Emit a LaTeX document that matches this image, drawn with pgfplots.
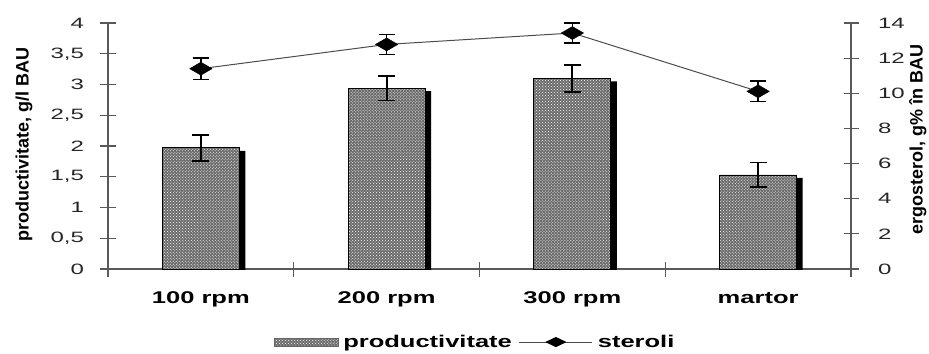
\documentclass[border=0pt]{standalone}
\usepackage{fontspec}
\setmainfont{Liberation Sans}
\newfontfamily\widefont{Liberation Sans}[FakeStretch=1.5]
\newfontfamily\tickfont{Liberation Sans}[FakeStretch=1.6]
\usepackage{pgfplots}
\pgfplotsset{compat=1.18}
\usetikzlibrary{patterns}
\begin{document}
\begin{tikzpicture}
\path[use as bounding box] (-108bp,-85bp) rectangle (821bp,269bp);
\begin{axis}[
  scale only axis, width=743bp, height=246bp,
  xmin=-0.5, xmax=3.5, ymin=0, ymax=4,
  axis x line*=bottom, axis y line*=left,
  axis line style={black!65, line width=1.2bp, -},
  ytick={0,0.5,1,1.5,2,2.5,3,3.5,4},
  tick align=center, major tick length=15bp,
  tick style={black!65, line width=1.2bp},
  /pgf/number format/assume math mode=true,
  /pgf/number format/use comma,
  yticklabel style={font=\tickfont\fontsize{15bp}{18bp}\selectfont, text=black!85, xshift=-13bp},
  xtick={-0.5,0.5,1.5,2.5,3.5}, xticklabels={},
  extra x ticks={0,1,2,3},
  extra x tick labels={100 rpm,200 rpm,300 rpm,martor},
  extra x tick style={major tick length=0pt, xticklabel style={font=\widefont\bfseries\fontsize{17bp}{20bp}\selectfont, anchor=base, yshift=-34bp}},
  ylabel={productivitate, g/l BAU},
  every axis y label/.style={at={(axis description cs:-0.113,0.508)}, rotate=90, anchor=center, font=\bfseries\fontsize{18bp}{20bp}\selectfont},
]
\addplot[ybar, bar width=77bp, draw=black, line width=0.8bp, fill=black!58,
  postaction={pattern=crosshatch dots, pattern color=white},
  preaction={fill=black, draw=none, transform canvas={shift={(6bp,-3bp)}}},
  error bars/.cd, y dir=both, y explicit,
  error bar style={line width=2bp, black},
  error mark options={rotate=90, line width=1.6bp, mark size=8.5bp, black}]
  coordinates {(0,1.97) +- (0,0.21) (1,2.94) +- (0,0.20) (2,3.10) +- (0,0.22) (3,1.53) +- (0,0.20)};
\end{axis}
\begin{axis}[
  scale only axis, width=743bp, height=246bp,
  xmin=-0.5, xmax=3.5, ymin=0, ymax=14,
  axis x line=none, axis y line*=right,
  axis line style={black!65, line width=1.2bp, -},
  ytick={0,2,4,6,8,10,12,14},
  tick align=center, major tick length=15bp,
  tick style={black!65, line width=1.2bp},
  /pgf/number format/assume math mode=true,
  yticklabel style={font=\tickfont\fontsize{15bp}{18bp}\selectfont, text=black!85, xshift=16bp},
  ylabel={ergosterol, g\% în BAU},
  every axis y label/.style={at={(axis description cs:1.090,0.528)}, rotate=90, anchor=center, font=\bfseries\fontsize{18bp}{20bp}\selectfont},
  clip=false,
  legend style={at={(axis description cs:0.494,-0.297)}, anchor=center, draw=none, fill=none,
    legend columns=2, font=\widefont\bfseries\fontsize{17bp}{20bp}\selectfont,
    /tikz/every odd column/.append style={column sep=3bp},
    /tikz/every even column/.append style={column sep=5bp}},
]
\addlegendimage{legend image code/.code={\draw[black!60, line width=0.6bp, fill=black!58, postaction={pattern=crosshatch dots, pattern color=white}] (0bp,-4bp) rectangle (64bp,4bp);}}
\addlegendentry{productivitate}
\addplot[black!70, line width=1bp, mark=diamond*, mark size=6.5bp,
  mark options={fill=black, draw=black, xscale=2.3, line width=0.4bp},
  legend image code/.code={\draw[black!70, line width=1bp] (0bp,0bp) -- (73bp,0bp); \fill[black] (27bp,0bp) -- (36.5bp,4.5bp) -- (46bp,0bp) -- (36.5bp,-4.5bp) -- cycle;},
  error bars/.cd, y dir=both, y explicit,
  error bar style={line width=1.4bp, black},
  error mark options={rotate=90, line width=1.4bp, mark size=8bp, black}]
  coordinates {(0,11.40) +- (0,0.60) (1,12.78) +- (0,0.58) (2,13.43) +- (0,0.57) (3,10.11) +- (0,0.59)};
\addlegendentry{steroli}
\end{axis}
\end{tikzpicture}
\end{document}
